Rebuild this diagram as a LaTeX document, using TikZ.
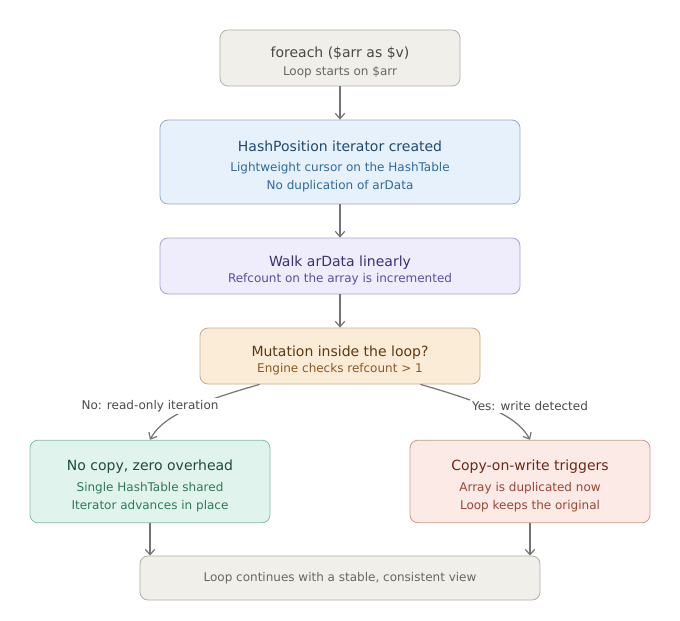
\documentclass[tikz,border=0pt]{standalone}
\usepackage{fontspec}
\setmainfont{DejaVu Sans}
\usetikzlibrary{arrows.meta}

\definecolor{startfill}{HTML}{F1EFEA}
\definecolor{startline}{HTML}{B3AEA6}
\definecolor{starttitle}{HTML}{4A4744}
\definecolor{starttext}{HTML}{6A6661}
\definecolor{iterfill}{HTML}{E6F1FC}
\definecolor{iterline}{HTML}{93ABC9}
\definecolor{itertitle}{HTML}{1E4A72}
\definecolor{itertext}{HTML}{2F6A9C}
\definecolor{walkfill}{HTML}{EFECFB}
\definecolor{walkline}{HTML}{ABA3D2}
\definecolor{walktitle}{HTML}{3A3178}
\definecolor{walktext}{HTML}{5A4F9E}
\definecolor{mutfill}{HTML}{FBECD8}
\definecolor{mutline}{HTML}{C9AB84}
\definecolor{muttitle}{HTML}{5A3A12}
\definecolor{muttext}{HTML}{8A5A22}
\definecolor{nofill}{HTML}{E1F3ED}
\definecolor{noline}{HTML}{84BCA7}
\definecolor{notitle}{HTML}{1E4B39}
\definecolor{notext}{HTML}{2E7A58}
\definecolor{cowfill}{HTML}{FBEAE5}
\definecolor{cowline}{HTML}{CD9A8A}
\definecolor{cowtitle}{HTML}{6A2A1A}
\definecolor{cowtext}{HTML}{9A4632}
\definecolor{linkgray}{HTML}{747474}
\definecolor{labelgray}{HTML}{4A4A4A}

\newcommand\ttl[2]{\textcolor{#1}{\fontsize{10.5}{13}\selectfont\rule{0pt}{14.5pt}#2}}

\tikzset{
  box/.style={draw, rounded corners=6pt, align=center, line width=0.6pt,
    inner sep=0pt, font=\fontsize{9}{13.5}\selectfont},
  link/.style={draw=linkgray, line width=0.9pt,
    -{Straight Barb[length=4pt,width=7pt]}},
  lbl/.style={fill=white, text=labelgray, inner sep=1.5pt,
    font=\fontsize{9}{11}\selectfont},
}

\begin{document}
\begin{tikzpicture}[x=0.75pt,y=-0.75pt]
  \useasboundingbox (0,0) rectangle (680,620);

  % steps
  \node[box, fill=startfill, draw=startline, text=starttext,
    minimum width=180pt, minimum height=42pt] (start) at (340,58)
    {\ttl{starttitle}{foreach (\$arr as \$v)}\\[-0.5pt] Loop starts on \$arr};
  \node[box, fill=iterfill, draw=iterline, text=itertext,
    minimum width=270pt, minimum height=63pt] (iter) at (340,162)
    {\ttl{itertitle}{HashPosition iterator created}\\[2pt]
     Lightweight cursor on the HashTable\\ No duplication of arData};
  \node[box, fill=walkfill, draw=walkline, text=walktext,
    minimum width=270pt, minimum height=42pt] (walk) at (340,266)
    {\ttl{walktitle}{Walk arData linearly}\\[-1pt] Refcount on the array is incremented};
  \node[box, fill=mutfill, draw=mutline, text=muttext,
    minimum width=210pt, minimum height=42pt] (mut) at (340,356)
    {\ttl{muttitle}{Mutation inside the loop?}\\[-1pt] Engine checks refcount > 1};

  % outcomes
  \node[box, fill=nofill, draw=noline, text=notext,
    minimum width=180pt, minimum height=62pt] (nocopy) at (150,481.5)
    {\ttl{notitle}{No copy, zero overhead}\\[2pt]
     Single HashTable shared\\ Iterator advances in place};
  \node[box, fill=cowfill, draw=cowline, text=cowtext,
    minimum width=180pt, minimum height=62pt] (cow) at (530,481.5)
    {\ttl{cowtitle}{Copy-on-write triggers}\\[2pt]
     Array is duplicated now\\ Loop keeps the original};
  \node[box, fill=startfill, draw=startline, text=starttext,
    minimum width=300pt, minimum height=33pt] (cont) at (340,578)
    {Loop continues with a stable, consistent view};

  \draw[link] (start) -- (iter);
  \draw[link] (iter) -- (walk);
  \draw[link] (walk) -- (mut);
  \draw[link] ([xshift=45pt]mut.south west)
    .. controls +(-70,20) and +(12,-22) .. (nocopy.north);
  \draw[link] ([xshift=-45pt]mut.south east)
    .. controls +(70,20) and +(-12,-22) .. (cow.north);
  \draw[link] (nocopy.south) -- (nocopy.south |- cont.north);
  \draw[link] (cow.south) -- (cow.south |- cont.north);

  % branch labels
  \node[lbl] (nolbl) at (150,406) {No: read-only iteration};
  \node[lbl] (yeslbl) at (530,406) {Yes: write detected};
\end{tikzpicture}
\end{document}
